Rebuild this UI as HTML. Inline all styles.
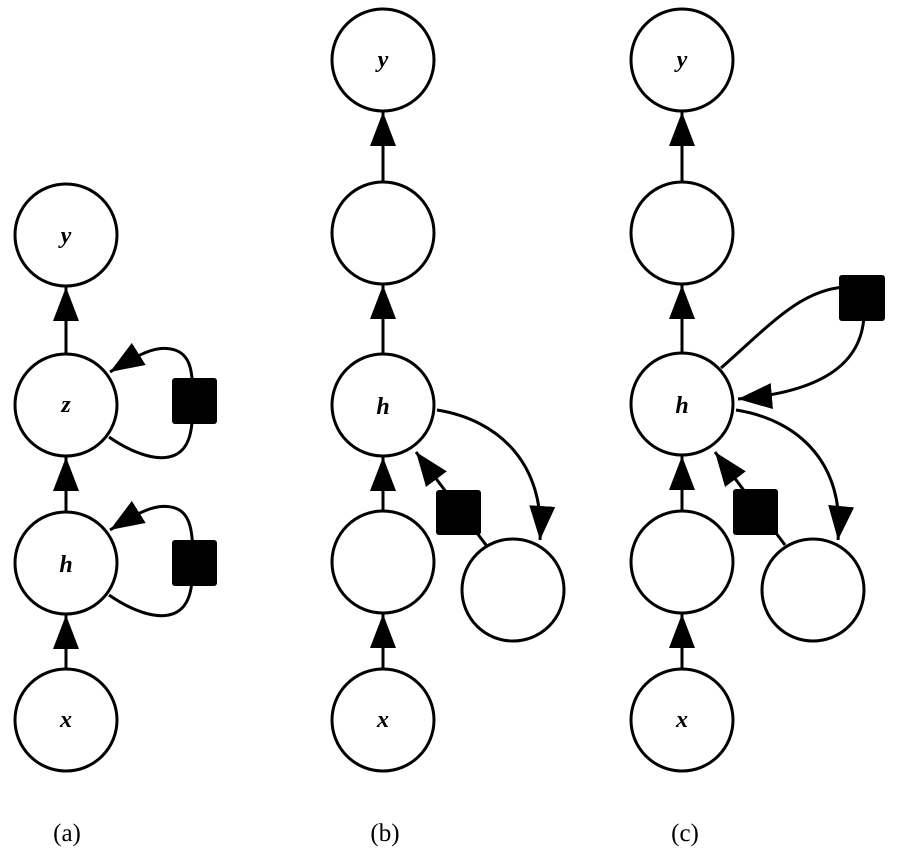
<!DOCTYPE html>
<html><head><meta charset="utf-8"><style>html,body{margin:0;padding:0;background:#fff}</style></head>
<body>
<svg width="897" height="860" xmlns="http://www.w3.org/2000/svg" style="display:block">
<defs>
<marker id="ah" markerUnits="userSpaceOnUse" markerWidth="36" markerHeight="28" refX="34" refY="13" orient="auto">
<path d="M0,0 L34,13 L0,26 Z" fill="#000"/>
</marker>
</defs>
<g fill="none" stroke="#000" stroke-width="3">
<!-- column a -->
<circle cx="66" cy="235" r="51" fill="#fff"/>
<circle cx="66" cy="405" r="51" fill="#fff"/>
<circle cx="66" cy="563" r="51" fill="#fff"/>
<circle cx="66" cy="720" r="51" fill="#fff"/>
<line x1="66" y1="354" x2="66" y2="287" marker-end="url(#ah)"/>
<line x1="66" y1="512" x2="66" y2="457" marker-end="url(#ah)"/>
<line x1="66" y1="669" x2="66" y2="615" marker-end="url(#ah)"/>
<path d="M109,437 C135,455 160,462 175,455 C190,448 193,430 193,400 C193,370 190,355 175,350 C160,345 145,350 110,372" marker-end="url(#ah)"/>
<path d="M109,595 C135,613 160,620 175,613 C190,606 193,588 193,560 C193,530 190,513 175,508 C160,503 145,508 110,530" marker-end="url(#ah)"/>
<!-- column b -->
<circle cx="383" cy="60" r="51" fill="#fff"/>
<circle cx="383" cy="233" r="51" fill="#fff"/>
<circle cx="383" cy="405" r="51" fill="#fff"/>
<circle cx="383" cy="562" r="51" fill="#fff"/>
<circle cx="383" cy="720" r="51" fill="#fff"/>
<circle cx="513" cy="590" r="51" fill="#fff"/>
<line x1="383" y1="182" x2="383" y2="112" marker-end="url(#ah)"/>
<line x1="383" y1="354" x2="383" y2="285" marker-end="url(#ah)"/>
<line x1="383" y1="511" x2="383" y2="457" marker-end="url(#ah)"/>
<line x1="383" y1="669" x2="383" y2="614" marker-end="url(#ah)"/>
<path d="M437,410 C500,420 545,465 540,540" marker-end="url(#ah)"/>
<line x1="486" y1="545" x2="416" y2="452" marker-end="url(#ah)"/>
<!-- column c -->
<circle cx="682" cy="60" r="51" fill="#fff"/>
<circle cx="682" cy="233" r="51" fill="#fff"/>
<circle cx="682" cy="404" r="51" fill="#fff"/>
<circle cx="682" cy="562" r="51" fill="#fff"/>
<circle cx="682" cy="720" r="51" fill="#fff"/>
<circle cx="813" cy="590" r="51" fill="#fff"/>
<line x1="682" y1="182" x2="682" y2="112" marker-end="url(#ah)"/>
<line x1="682" y1="353" x2="682" y2="285" marker-end="url(#ah)"/>
<line x1="682" y1="511" x2="682" y2="456" marker-end="url(#ah)"/>
<line x1="682" y1="669" x2="682" y2="614" marker-end="url(#ah)"/>
<path d="M721,368 C770,325 800,290 845,287"/>
<path d="M864,315 C862,365 820,392 738,399" marker-end="url(#ah)"/>
<path d="M736,410 C800,420 845,465 838,540" marker-end="url(#ah)"/>
<line x1="785" y1="545" x2="715" y2="452" marker-end="url(#ah)"/>
</g>
<g fill="#000">
<rect x="172" y="378" width="45" height="46" rx="3"/>
<rect x="172" y="540" width="45" height="46" rx="3"/>
<rect x="436" y="490" width="45" height="45" rx="3"/>
<rect x="839" y="275" width="46" height="46" rx="3"/>
<rect x="733" y="489" width="45" height="46" rx="3"/>
</g>
<g font-family="Liberation Serif, serif" font-style="italic" font-weight="bold" font-size="24" text-anchor="middle">
<text x="66" y="243">y</text>
<text x="66" y="412">z</text>
<text x="66" y="572">h</text>
<text x="66" y="727">x</text>
<text x="383" y="67">y</text>
<text x="383" y="414">h</text>
<text x="383" y="727">x</text>
<text x="682" y="67">y</text>
<text x="682" y="413">h</text>
<text x="682" y="727">x</text>
</g>
<g font-family="Liberation Serif, serif" font-size="25" text-anchor="middle">
<text x="67" y="841">(a)</text>
<text x="385" y="841">(b)</text>
<text x="685" y="841">(c)</text>
</g>
</svg>
</body></html>
